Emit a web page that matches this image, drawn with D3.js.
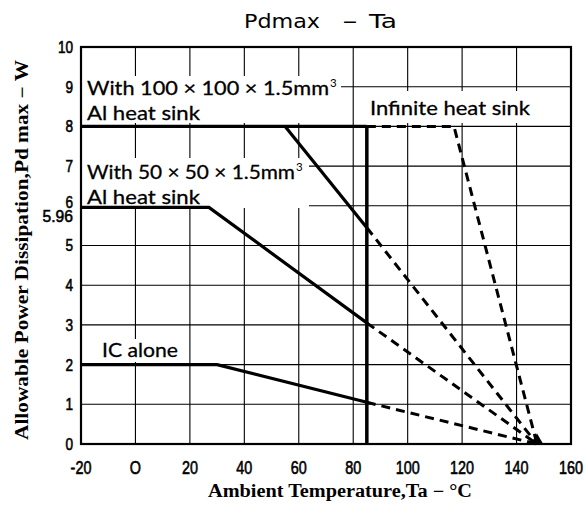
<!DOCTYPE html>
<html><head><meta charset="utf-8">
<script src="https://cdn.jsdelivr.net/npm/d3@7"></script>
<style>body{margin:0;background:#fff}svg{display:block}</style>
</head><body><svg id="c" width="585" height="506"></svg>
<script>
// ---- data ----
const xTicks = [-20, 0, 20, 40, 60, 80, 100, 120, 140, 160];
const yTicks = [0, 1, 2, 3, 4, 5, 6, 7, 8, 9, 10];
const yExtraTick = 5.96;
const sink100Flat = [[-20, 8], [85, 8]];
const sink100Solid = [[55, 8], [85, 5.45]];
const sink100Dash = [[85, 5.45], [147.5, 0]];
const sink50Solid = [[-20, 5.96], [27, 5.96], [85, 3.05]];
const sink50Dash = [[85, 3.05], [147.5, 0]];
const icSolid = [[-20, 2], [30, 2], [85, 1.05]];
const icDash = [[85, 1.05], [147.5, 0]];
const infiniteDash = [[85, 8], [117, 8], [147.5, 0]];
const limitLine = [[85, 0], [85, 8]];
const convergePoint = [147.5, 0];
const titleParts = ["Pdmax", "\u2212", "Ta"];
const xTitle = "Ambient Temperature,Ta \u2212 \u00B0C";
const yTitle = "Allowable Power Dissipation,Pd max \u2212 W";

// ---- chart ----
const svg = d3.select("#c");
const x = d3.scaleLinear().domain([-20, 160]).range([81, 571]);
const y = d3.scaleLinear().domain([0, 10]).range([444, 47]);
const line = d3.line().x(d => x(d[0])).y(d => y(d[1]));
const tickFont = "'Liberation Sans',Arial,sans-serif";
const labFont = "Lato,'Open Sans',sans-serif";
const serif = "'Liberation Serif','DejaVu Serif',serif";

// grid
const grid = svg.append("g").attr("stroke", "#000").attr("stroke-width", 1.1);
grid.selectAll(".v").data(xTicks).join("line")
  .attr("x1", d => x(d)).attr("x2", d => x(d)).attr("y1", y(10)).attr("y2", y(0));
grid.selectAll(".h").data(yTicks).join("line")
  .attr("y1", d => y(d)).attr("y2", d => y(d)).attr("x1", x(-20)).attr("x2", x(160));

// in-plot labels with white backgrounds
const bgG = svg.append("g").attr("fill", "#fff");
const txtG = svg.append("g");
function addLine(txt, px, py, len, sup) {
  txtG.append("text").attr("x", px).attr("y", py)
    .attr("font-family", labFont).attr("font-size", 20).attr("fill", "#000")
    .attr("stroke", "#000").attr("stroke-width", 0.3)
    .attr("textLength", len).attr("lengthAdjust", "spacingAndGlyphs").text(txt);
  if (sup) txtG.append("text").attr("x", px + len + 1).attr("y", py - 8)
    .attr("font-family", labFont).attr("font-size", 11.5).text(sup);
}
addLine("With 100 \u00D7 100 \u00D7 1.5mm", 87, 95, 242, "3");
addLine("Al heat sink", 87, 120, 113);
addLine("With 50 \u00D7 50 \u00D7 1.5mm", 87, 179, 208, "3");
addLine("Al heat sink", 87, 204, 113);
addLine("Infinite heat sink", 370, 115, 160);
addLine("IC alone", 102, 357, 76);
bgG.append("rect").attr("x", x(-20) + 1).attr("y", 76).attr("width", 340 - x(-20)).attr("height", 47);
bgG.append("rect").attr("x", x(-20) + 1).attr("y", 158).attr("width", 308 - x(-20)).attr("height", 50);
bgG.append("rect").attr("x", 366).attr("y", 91).attr("width", 168).attr("height", 32);
bgG.append("rect").attr("x", 98).attr("y", 339).attr("width", 84).attr("height", 23);

// data lines
const dataG = svg.append("g").attr("fill", "none").attr("stroke", "#000");
[sink100Flat, sink100Solid, sink50Solid, icSolid].forEach(s =>
  dataG.append("path").attr("d", line(s)).attr("stroke-width", 3.2));
dataG.append("path").attr("d", line(limitLine)).attr("stroke-width", 3.5);
[sink100Dash, sink50Dash, icDash, infiniteDash].forEach(s =>
  dataG.append("path").attr("d", line(s)).attr("stroke-width", 3)
    .attr("stroke-dasharray", "9,6"));
svg.append("path")
  .attr("d", d3.symbol().type(d3.symbolTriangle).size(60)())
  .attr("transform", `translate(${x(convergePoint[0])},${y(convergePoint[1]) - 4})`)
  .attr("fill", "#000");
txtG.raise();

// frame
svg.append("rect").attr("x", x(-20)).attr("y", y(10)).attr("width", x(160) - x(-20))
  .attr("height", y(0) - y(10)).attr("fill", "none").attr("stroke", "#000").attr("stroke-width", 2.2);

// tick labels
const tickG = svg.append("g").attr("font-family", tickFont).attr("stroke", "#000").attr("stroke-width", 0.6);
tickG.append("g").selectAll("text").data(xTicks).join("text")
  .attr("transform", d => `translate(${x(d)},473.5) scale(0.8,1)`).attr("text-anchor", "middle")
  .attr("font-size", 18).text(d => d === 0 ? "O" : d);
tickG.append("g").selectAll("text").data(yTicks).join("text")
  .attr("transform", d => `translate(73,${y(d) + (d === 6 ? -4 : 0)}) scale(0.8,1)`)
  .attr("dy", "0.35em").attr("text-anchor", "end")
  .attr("font-size", 17).text(d => d);
tickG.append("text").attr("transform", `translate(73,${y(yExtraTick) + 9}) scale(0.92,1)`).attr("dy", "0.35em")
  .attr("text-anchor", "end").attr("font-size", 17).text(yExtraTick);

// titles
const tf = "'DejaVu Sans',sans-serif";
svg.append("text").attr("x", 244).attr("y", 28).attr("font-family", tf).attr("font-size", 19)
  .attr("textLength", 76).attr("lengthAdjust", "spacingAndGlyphs").text(titleParts[0]);
svg.append("text").attr("x", 350).attr("y", 28).attr("text-anchor", "middle").attr("font-family", tf)
  .attr("font-size", 19).text(titleParts[1]);
svg.append("text").attr("x", 369).attr("y", 28).attr("font-family", tf).attr("font-size", 19)
  .attr("textLength", 28).attr("lengthAdjust", "spacingAndGlyphs").text(titleParts[2]);
svg.append("text").attr("x", 208).attr("y", 497)
  .attr("font-family", serif).attr("font-weight", "bold").attr("font-size", 18)
  .attr("textLength", 264).attr("lengthAdjust", "spacingAndGlyphs").text(xTitle);
svg.append("text").attr("transform", "translate(28,440) rotate(-90)")
  .attr("font-family", serif).attr("font-weight", "bold").attr("font-size", 18)
  .attr("textLength", 380).attr("lengthAdjust", "spacingAndGlyphs").text(yTitle);
</script></body></html>
